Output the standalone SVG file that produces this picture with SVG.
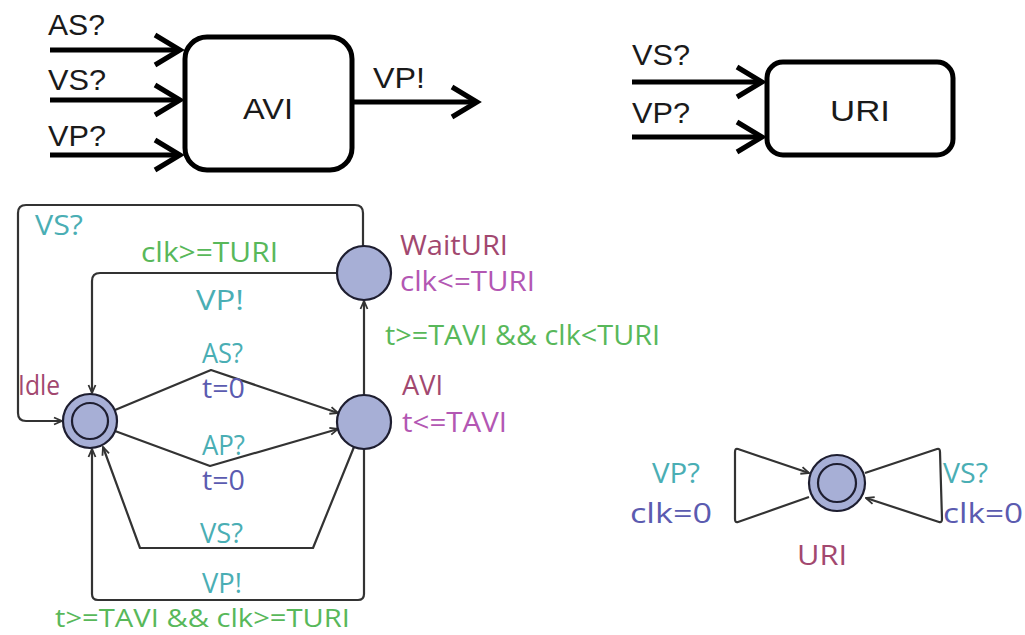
<svg xmlns="http://www.w3.org/2000/svg" width="1025" height="635" viewBox="0 0 1025 635">
<style>
.blk{font-family:"Liberation Sans",Arial,sans-serif;font-size:30px;fill:#1a1a1a}
.lbl{font-family:"Open Sans","DejaVu Sans",sans-serif;font-size:27px}
.sync{fill:#4aaeb4}
.guard{fill:#58b85a}
.name{fill:#a2486f}
.inv{fill:#b357b3}
.upd{fill:#5b5bb0}
.box{fill:#fff;stroke:#000;stroke-width:5}
.thick{stroke:#000;stroke-width:5;fill:none}
.edge{stroke:#333;stroke-width:2.2;fill:none;stroke-linejoin:round}
.st{fill:#a7afd6;stroke:#1e1e30;stroke-width:2.2}
.inner{fill:none;stroke:#1e1e30;stroke-width:2.2}
</style>
<defs>
<marker id="big" markerWidth="8" markerHeight="8" refX="6" refY="4" orient="auto" markerUnits="strokeWidth">
<path d="M1,1 L6,4 L1,7" fill="none" stroke="#000" stroke-width="1"/>
</marker>
<marker id="sm" markerWidth="10" markerHeight="10" refX="9" refY="5" orient="auto" markerUnits="userSpaceOnUse">
<path d="M1,1.5 L9,5 L1,8.5" fill="none" stroke="#333" stroke-width="1.8"/>
</marker>
</defs>

<g id="connectors">
<line class="thick" x1="50" y1="50" x2="180" y2="50" marker-end="url(#big)"/>
<line class="thick" x1="50" y1="100" x2="180" y2="100" marker-end="url(#big)"/>
<line class="thick" x1="50" y1="155" x2="180" y2="155" marker-end="url(#big)"/>
<line class="thick" x1="352" y1="102" x2="477" y2="102" marker-end="url(#big)"/>
<line class="thick" x1="632" y1="82" x2="762" y2="82" marker-end="url(#big)"/>
<line class="thick" x1="632" y1="137" x2="762" y2="137" marker-end="url(#big)"/>

<path class="edge" d="M363,246 L363,213 Q363,205 355,205 L26,205 Q18,205 18,213 L18,413 Q18,421 26,421 L62,421" marker-end="url(#sm)"/>
<path class="edge" d="M336,273 L100,273 Q92,273 92,281 L92,393" marker-end="url(#sm)"/>
<path class="edge" d="M364,395 L364,301" marker-end="url(#sm)"/>
<path class="edge" d="M115,410 L211,370 L338,413" marker-end="url(#sm)"/>
<path class="edge" d="M115,431 L210,466 L338,429" marker-end="url(#sm)"/>
<path class="edge" d="M354,447 L313,548 L140,548 L103,447" marker-end="url(#sm)"/>
<path class="edge" d="M364,449 L364,594 Q364,600 358,600 L98,600 Q92,600 92,594 L92,449" marker-end="url(#sm)"/>
<path class="edge" d="M809,497 L738,522 Q735,523 735,519 L735,452 Q735,448 738,449 L809,473" marker-end="url(#sm)"/>
<path class="edge" d="M865,473 L937,449 Q940,448 940,452 L942,519 Q942,523 939,522 L866,498" marker-end="url(#sm)"/>
</g>

<g id="avi-block">
<rect class="box" x="185" y="37" width="167" height="133" rx="22"/>
<text class="blk" x="268" y="119" text-anchor="middle" textLength="50" lengthAdjust="spacingAndGlyphs">AVI</text>
</g>
<g id="avi-block-labels">
<text class="blk" x="48" y="35" textLength="57" lengthAdjust="spacingAndGlyphs">AS?</text>
<text class="blk" x="48" y="90" textLength="58" lengthAdjust="spacingAndGlyphs">VS?</text>
<text class="blk" x="48" y="146" textLength="58" lengthAdjust="spacingAndGlyphs">VP?</text>
<text class="blk" x="373" y="88" textLength="52" lengthAdjust="spacingAndGlyphs">VP!</text>
</g>

<g id="uri-block">
<rect class="box" x="767" y="62" width="186" height="93" rx="16"/>
<text class="blk" x="860" y="121" text-anchor="middle" textLength="60" lengthAdjust="spacingAndGlyphs">URI</text>
<text class="blk" x="632" y="65" textLength="58" lengthAdjust="spacingAndGlyphs">VS?</text>
<text class="blk" x="632" y="123" textLength="58" lengthAdjust="spacingAndGlyphs">VP?</text>
</g>

<g id="idle">
<circle class="st" cx="90" cy="421" r="27"/>
<circle class="inner" cx="90" cy="421" r="18"/>
<text class="lbl name" x="18" y="395" textLength="42" lengthAdjust="spacingAndGlyphs">Idle</text>
</g>
<g id="waituri">
<circle class="st" cx="364" cy="273" r="27"/>
<text class="lbl name" x="400" y="255" textLength="108" lengthAdjust="spacingAndGlyphs">WaitURI</text>
<text class="lbl inv" x="400" y="291" textLength="135" lengthAdjust="spacingAndGlyphs">clk&lt;=TURI</text>
</g>
<g id="avi">
<circle class="st" cx="364" cy="422" r="27"/>
<text class="lbl name" x="402" y="395" textLength="41" lengthAdjust="spacingAndGlyphs">AVI</text>
<text class="lbl inv" x="402" y="432" textLength="105" lengthAdjust="spacingAndGlyphs">t&lt;=TAVI</text>
</g>
<g id="uri">
<circle class="st" cx="837" cy="483" r="28"/>
<circle class="inner" cx="837" cy="483" r="19"/>
<text class="lbl name" x="822" y="565" text-anchor="middle" textLength="50" lengthAdjust="spacingAndGlyphs">URI</text>
</g>

<g id="edge-labels">
<text class="lbl sync" x="35" y="235" textLength="48" lengthAdjust="spacingAndGlyphs">VS?</text>
<text class="lbl guard" x="141" y="262" textLength="137" lengthAdjust="spacingAndGlyphs">clk&gt;=TURI</text>
<text class="lbl sync" x="196" y="310" textLength="48" lengthAdjust="spacingAndGlyphs">VP!</text>
<text class="lbl guard" x="385" y="345" textLength="275" lengthAdjust="spacingAndGlyphs">t&gt;=TAVI &amp;&amp; clk&lt;TURI</text>
<text class="lbl sync" x="202" y="363" textLength="41" lengthAdjust="spacingAndGlyphs">AS?</text>
<text class="lbl upd" x="202" y="398" textLength="43" lengthAdjust="spacingAndGlyphs">t=0</text>
<text class="lbl sync" x="202" y="455" textLength="43" lengthAdjust="spacingAndGlyphs">AP?</text>
<text class="lbl upd" x="202" y="490" textLength="43" lengthAdjust="spacingAndGlyphs">t=0</text>
<text class="lbl sync" x="200" y="543" textLength="43" lengthAdjust="spacingAndGlyphs">VS?</text>
<text class="lbl sync" x="202" y="593" textLength="40" lengthAdjust="spacingAndGlyphs">VP!</text>
<text class="lbl guard" x="55" y="627" style="font-size:25px" textLength="295" lengthAdjust="spacingAndGlyphs">t&gt;=TAVI &amp;&amp; clk&gt;=TURI</text>
<text class="lbl sync" x="652" y="483" textLength="48" lengthAdjust="spacingAndGlyphs">VP?</text>
<text class="lbl upd" x="630" y="523" textLength="82" lengthAdjust="spacingAndGlyphs">clk=0</text>
<text class="lbl sync" x="943" y="483" textLength="45" lengthAdjust="spacingAndGlyphs">VS?</text>
<text class="lbl upd" x="943" y="523" textLength="80" lengthAdjust="spacingAndGlyphs">clk=0</text>
</g>
</svg>
